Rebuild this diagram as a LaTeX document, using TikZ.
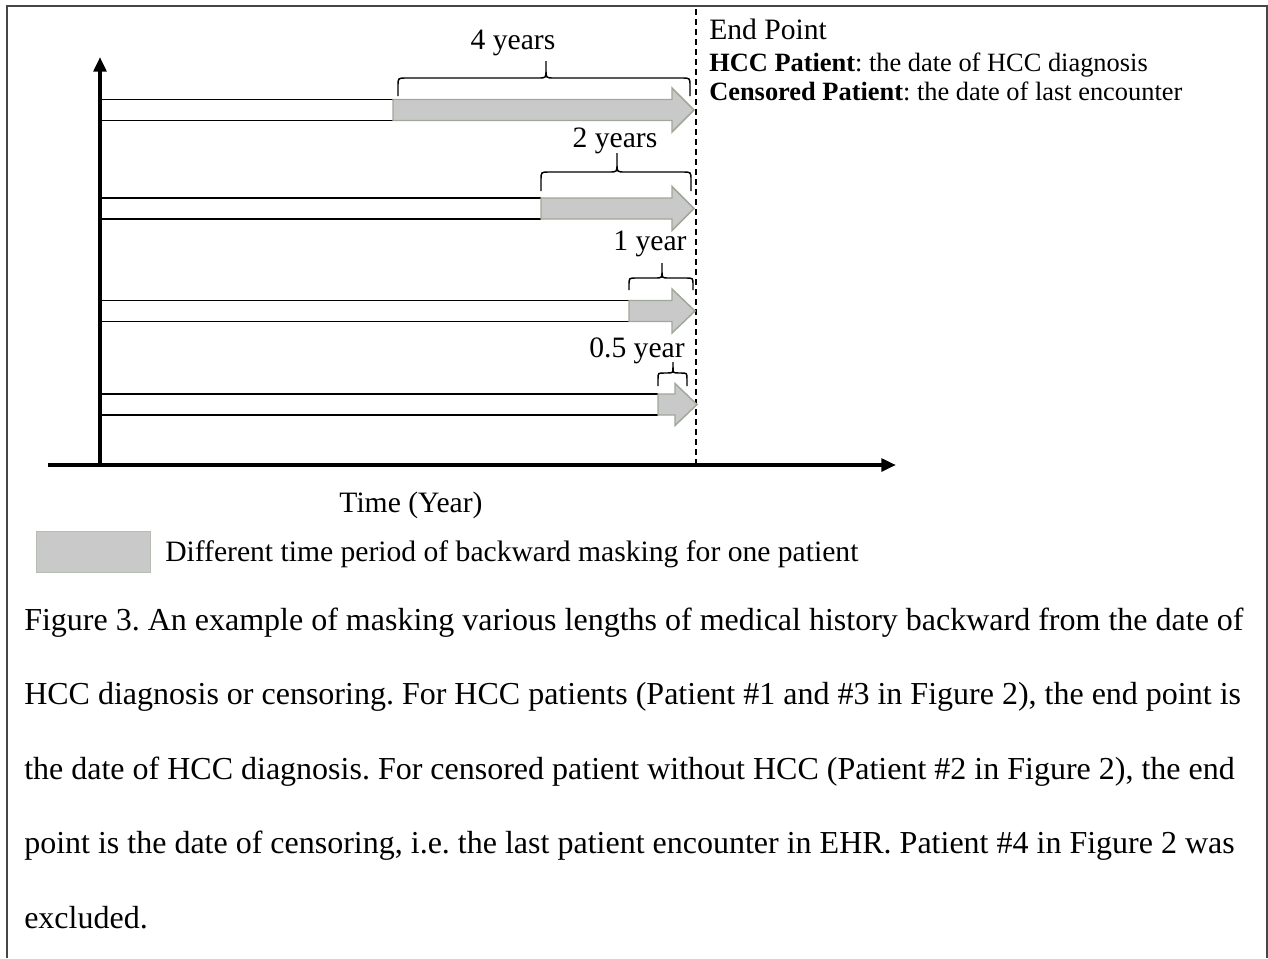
\documentclass[tikz,border=0pt]{standalone}
\usepackage{fontspec}
\setmainfont{Liberation Serif}
\usetikzlibrary{arrows.meta}
\frenchspacing
\definecolor{maskfill}{RGB}{201,201,201}
\definecolor{maskline}{RGB}{160,168,154}
\definecolor{legline}{RGB}{182,189,178}
\definecolor{framecol}{RGB}{70,70,70}
\newcommand{\mybrace}[7]{%
  \draw[bracestyle] (#1,#4) -- (#1,{#5+#7}) .. controls (#1,#5) .. ({#1+#7},#5)
    -- ({#3-#7},#5) .. controls (#3,#5) .. (#3,{#5-#7}) -- (#3,#6)
    -- (#3,{#5-#7}) .. controls (#3,#5) .. ({#3+#7},#5)
    -- ({#2-#7},#5) .. controls (#2,#5) .. (#2,{#5+#7}) -- (#2,#4);}
\newcommand{\patientbar}[5]{% y-center, gray start, head start, tip, head half height
  \draw[black, line width=1.1pt] (100,{#1-10.5}) -- (#2,{#1-10.5}) (100,{#1+10.5}) -- (#2,{#1+10.5});
  \draw[maskfill arrow] (#2,{#1-10.5}) -- (#3,{#1-10.5}) -- (#3,{#1-#5}) -- (#4,#1)
    -- (#3,{#1+#5}) -- (#3,{#1+10.5}) -- (#2,{#1+10.5}) -- cycle;}
\tikzset{
  bracestyle/.style={black, line width=1.1pt},
  maskfill arrow/.style={fill=maskfill, draw=maskline, line width=1.1pt, line join=miter},
  axisline/.style={line width=3pt, -{Triangle[length=11pt,width=9.5pt]}},
  lbl/.style={inner sep=0pt, font=\fontsize{22.2}{26}\selectfont},
  smalllbl/.style={inner sep=0pt, font=\fontsize{19.8}{23}\selectfont},
  captxt/.style={inner sep=0pt, anchor=base west, font=\fontsize{24.0}{29}\selectfont},
}
\begin{document}
\begin{tikzpicture}[x=0.75pt, y=-0.75pt]
\useasboundingbox (0,0) rectangle (1268,958);
% frame
\draw[framecol, line width=1.5pt] (7,958) -- (7,6) -- (1266.5,6) -- (1266.5,958);
% dashed end-point line
\draw[black, line width=1.5pt, dash pattern=on 4.5pt off 3pt] (696,9) -- (696,465);
% patient bars
\patientbar{110}{393}{672}{694}{22}
\patientbar{208.5}{541}{672}{694}{22}
\patientbar{311}{629}{672}{695}{22}
\patientbar{404.5}{658}{675}{697}{21}
% axes
\coordinate (origin) at (100,465);
\coordinate (ytip) at (100,57);
\coordinate (xstart) at (48,465);
\coordinate (xtip) at (896,465);
\draw[axisline] (origin) -- (ytip);
\draw[axisline] (xstart) -- (xtip);
% braces
\mybrace{398}{690}{546}{96}{78}{61}{8}
\mybrace{541}{691}{617}{191}{172}{153}{8}
\mybrace{629}{693}{662}{290}{278}{263}{7}
\mybrace{658}{687}{673}{386}{373}{362}{6}
% brace labels
\node[lbl, anchor=base] (l4) at (513,49) {4 years};
\node[lbl, anchor=base] (l2) at (615,147) {2 years};
\node[lbl, anchor=base] (l1) at (650,250) {1 year};
\node[lbl, anchor=base] (l05) at (637,357) {0.5 year};
% end point text
\node[lbl, anchor=base west] (ep) at (709,39) {End Point};
\node[smalllbl, anchor=base west] (hcc) at (709,71) {\textbf{HCC Patient}: the date of HCC diagnosis};
\node[smalllbl, anchor=base west] (cens) at (709,100) {\textbf{Censored Patient}: the date of last encounter};
% axis label
\node[lbl, anchor=base] (time) at (411,512) {Time (Year)};
% legend
\node[draw=legline, fill=maskfill, line width=1.1pt, minimum width=114*0.75pt, minimum height=41*0.75pt, inner sep=0pt, anchor=north west] (legbox) at (36,531) {};
\node[lbl, anchor=base west] (legtxt) at (165,561) {Different time period of backward masking for one patient};
% caption
\node[captxt] (c1) at (24,630) {Figure 3. An example of masking various lengths of medical history backward from the date of};
\node[captxt] (c2) at (24,704.5) {HCC diagnosis or censoring. For HCC patients (Patient \#1 and \#3 in Figure 2), the end point is};
\node[captxt] (c3) at (24,779) {the date of HCC diagnosis. For censored patient without HCC (Patient \#2 in Figure 2), the end};
\node[captxt] (c4) at (24,853.5) {point is the date of censoring, i.e. the last patient encounter in EHR. Patient \#4 in Figure 2 was};
\node[captxt] (c5) at (24,928) {excluded.};
\end{tikzpicture}
\end{document}
